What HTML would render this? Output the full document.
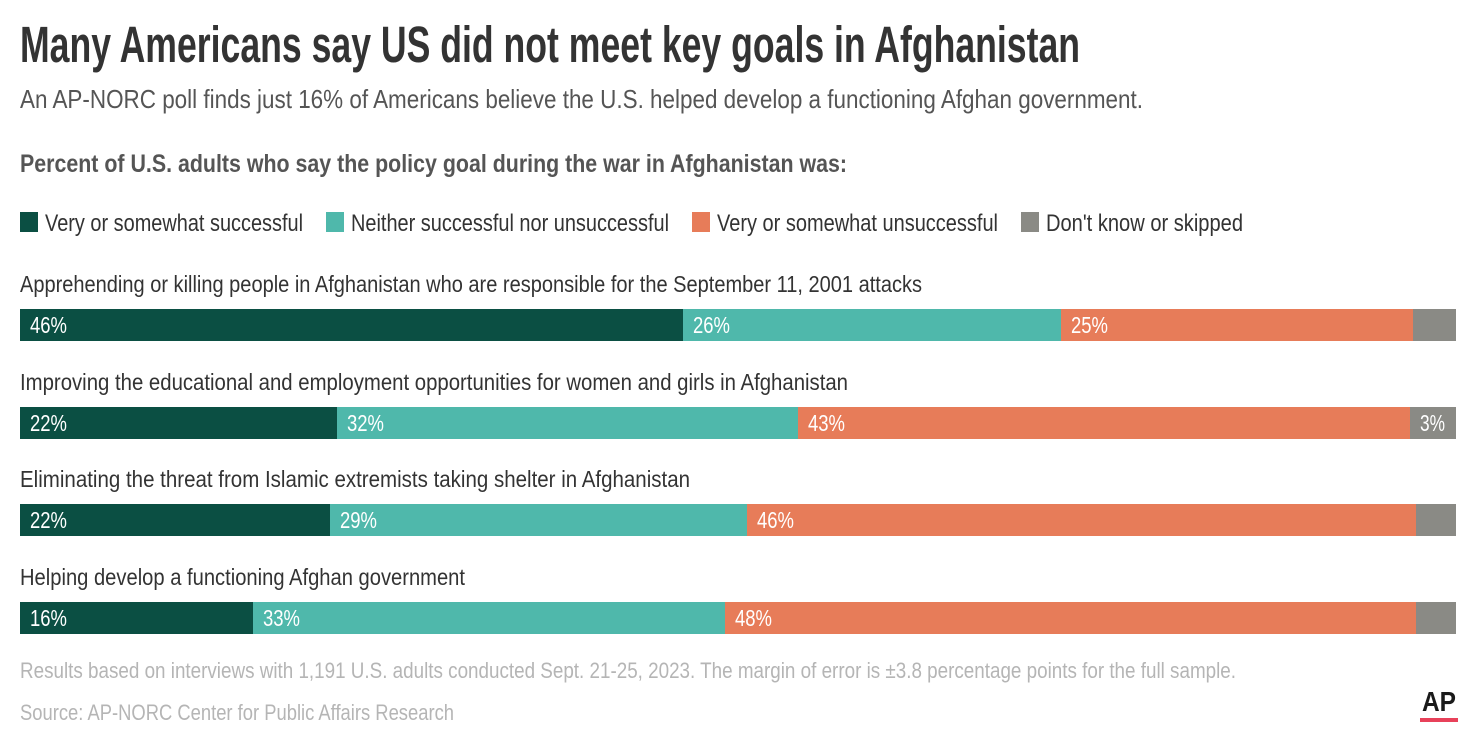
<!DOCTYPE html>
<html><head><meta charset="utf-8"><style>html,body{margin:0;padding:0;background:#fff}svg{display:block}</style></head><body>
<svg width="1482" height="741" viewBox="0 0 1482 741" xmlns="http://www.w3.org/2000/svg" font-family="'Liberation Sans Narrow','Liberation Sans',sans-serif">
<text x="20" y="62" font-size="51" font-weight="bold" fill="#333" textLength="1060" lengthAdjust="spacingAndGlyphs">Many Americans say US did not meet key goals in Afghanistan</text>
<text x="20" y="108" font-size="26" fill="#555" textLength="1123" lengthAdjust="spacingAndGlyphs">An AP-NORC poll finds just 16% of Americans believe the U.S. helped develop a functioning Afghan government.</text>
<text x="20" y="172" font-size="25" font-weight="bold" fill="#555" textLength="827" lengthAdjust="spacingAndGlyphs">Percent of U.S. adults who say the policy goal during the war in Afghanistan was:</text>
<g font-size="24" fill="#333">
<rect x="20" y="212" width="18" height="20" fill="#0b4f43"/>
<text x="45" y="231" textLength="258" lengthAdjust="spacingAndGlyphs">Very or somewhat successful</text>
<rect x="326" y="212" width="18" height="20" fill="#4fb8ab"/>
<text x="351" y="231" textLength="318" lengthAdjust="spacingAndGlyphs">Neither successful nor unsuccessful</text>
<rect x="692" y="212" width="18" height="20" fill="#e77c59"/>
<text x="717" y="231" textLength="281" lengthAdjust="spacingAndGlyphs">Very or somewhat unsuccessful</text>
<rect x="1021" y="212" width="18" height="20" fill="#8a8a85"/>
<text x="1046" y="231" textLength="197" lengthAdjust="spacingAndGlyphs">Don't know or skipped</text>
</g>
<g font-size="23" fill="#333">
<text x="20" y="292" textLength="902" lengthAdjust="spacingAndGlyphs">Apprehending or killing people in Afghanistan who are responsible for the September 11, 2001 attacks</text>
<text x="20" y="390" textLength="828" lengthAdjust="spacingAndGlyphs">Improving the educational and employment opportunities for women and girls in Afghanistan</text>
<text x="20" y="487" textLength="670" lengthAdjust="spacingAndGlyphs">Eliminating the threat from Islamic extremists taking shelter in Afghanistan</text>
<text x="20" y="585" textLength="445" lengthAdjust="spacingAndGlyphs">Helping develop a functioning Afghan government</text>
</g>
<g>
<rect x="20" y="309" width="663" height="32" fill="#0b4f43"/><rect x="683" y="309" width="378" height="32" fill="#4fb8ab"/><rect x="1061" y="309" width="352" height="32" fill="#e77c59"/><rect x="1413" y="309" width="43" height="32" fill="#8a8a85"/>
<rect x="20" y="407" width="317" height="32" fill="#0b4f43"/><rect x="337" y="407" width="461" height="32" fill="#4fb8ab"/><rect x="798" y="407" width="612" height="32" fill="#e77c59"/><rect x="1410" y="407" width="46" height="32" fill="#8a8a85"/>
<rect x="20" y="504" width="310" height="32" fill="#0b4f43"/><rect x="330" y="504" width="417" height="32" fill="#4fb8ab"/><rect x="747" y="504" width="669" height="32" fill="#e77c59"/><rect x="1416" y="504" width="40" height="32" fill="#8a8a85"/>
<rect x="20" y="602" width="233" height="32" fill="#0b4f43"/><rect x="253" y="602" width="472" height="32" fill="#4fb8ab"/><rect x="725" y="602" width="691" height="32" fill="#e77c59"/><rect x="1416" y="602" width="40" height="32" fill="#8a8a85"/>
</g>
<g font-size="23" fill="#fff">
<text x="30" y="333" textLength="37" lengthAdjust="spacingAndGlyphs">46%</text><text x="693" y="333" textLength="37" lengthAdjust="spacingAndGlyphs">26%</text><text x="1071" y="333" textLength="37" lengthAdjust="spacingAndGlyphs">25%</text>
<text x="30" y="431" textLength="37" lengthAdjust="spacingAndGlyphs">22%</text><text x="347" y="431" textLength="37" lengthAdjust="spacingAndGlyphs">32%</text><text x="808" y="431" textLength="37" lengthAdjust="spacingAndGlyphs">43%</text><text x="1420" y="431" textLength="25" lengthAdjust="spacingAndGlyphs">3%</text>
<text x="30" y="528" textLength="37" lengthAdjust="spacingAndGlyphs">22%</text><text x="340" y="528" textLength="37" lengthAdjust="spacingAndGlyphs">29%</text><text x="757" y="528" textLength="37" lengthAdjust="spacingAndGlyphs">46%</text>
<text x="30" y="626" textLength="37" lengthAdjust="spacingAndGlyphs">16%</text><text x="263" y="626" textLength="37" lengthAdjust="spacingAndGlyphs">33%</text><text x="735" y="626" textLength="37" lengthAdjust="spacingAndGlyphs">48%</text>
</g>
<g font-size="22" fill="#b5b5b5">
<text x="20" y="678" textLength="1216" lengthAdjust="spacingAndGlyphs">Results based on interviews with 1,191 U.S. adults conducted Sept. 21-25, 2023. The margin of error is ±3.8 percentage points for the full sample.</text>
<text x="20" y="720" textLength="434" lengthAdjust="spacingAndGlyphs">Source: AP-NORC Center for Public Affairs Research</text>
</g>
<text x="1422" y="711" font-size="28" font-weight="bold" fill="#1a1a1a" textLength="34" lengthAdjust="spacingAndGlyphs" font-family="'Liberation Sans',sans-serif">AP</text>
<rect x="1420" y="718" width="38" height="4" fill="#e8415a"/>
</svg>
</body></html>
